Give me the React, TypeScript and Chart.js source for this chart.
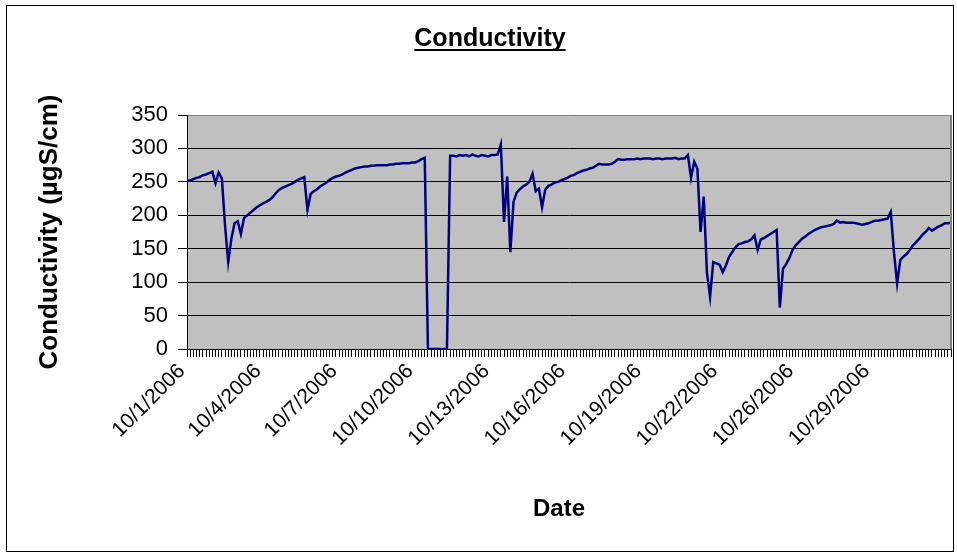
import React, { useEffect, useRef } from 'react';
import { Chart, registerables } from 'chart.js';

Chart.register(...registerables);

const FONT = '"Liberation Sans", Arial, Helvetica, sans-serif';

const tickLabels = [
  '10/1/2006', '10/4/2006', '10/7/2006', '10/10/2006', '10/13/2006',
  '10/16/2006', '10/19/2006', '10/22/2006', '10/26/2006', '10/29/2006',
];
const labelStep = 24;

const conductivity = [
  252, 252, 254, 256, 257, 260, 261, 263, 265, 248, 264, 255, 185, 130, 165, 188, 191, 172, 196, 200,
  204, 208, 212, 215, 218, 220, 223, 227, 233, 238, 241, 243, 245, 247, 250, 253, 255, 257, 208, 232,
  236, 239, 243, 246, 249, 253, 256, 258, 259, 261, 264, 266, 268, 270, 271, 272, 273, 273, 274, 274,
  275, 275, 275, 275, 276, 276, 277, 277, 278, 278, 278, 279, 279, 281, 284, 286, 0, 0, 0, 0,
  0, 0, 0, 289, 289, 288, 290, 289, 290, 288, 291, 289, 288, 290, 289, 288, 290, 290, 291, 306,
  190, 258, 145, 220, 234, 239, 243, 246, 250, 262, 236, 240, 212, 238, 244, 246, 249, 250, 252, 254,
  256, 259, 260, 263, 265, 267, 268, 270, 271, 274, 277, 276, 276, 276, 277, 280, 284, 283, 283, 284,
  284, 284, 285, 284, 285, 285, 285, 284, 285, 285, 284, 285, 285, 285, 286, 284, 285, 285, 290, 256,
  280, 270, 175, 228, 115, 78, 130, 128, 126, 115, 125, 138, 145, 152, 157, 158, 160, 161, 164, 170,
  148, 164, 166, 169, 172, 175, 178, 62, 120, 127, 136, 148, 155, 160, 165, 168, 172, 175, 178, 180,
  182, 183, 184, 185, 187, 192, 189, 190, 189, 189, 189, 188, 187, 186, 187, 188, 190, 192, 192, 193,
  194, 195, 205, 145, 98, 133, 138, 142, 148, 155, 160, 165, 171, 175, 181, 177, 180, 183, 185, 188,
  188, 189,
];

const categories = conductivity.map((_, i) =>
  i % labelStep === 0 && tickLabels[i / labelStep] ? tickLabels[i / labelStep] : ''
);

const chartTitle = 'Conductivity';
const xTitle = 'Date';
const yTitle = 'Conductivity (µgS/cm)';

const framePlugin = {
  id: 'framePlugin',
  beforeDraw(chart: any) {
    const { ctx, chartArea } = chart;
    ctx.save();
    ctx.fillStyle = '#C0C0C0';
    ctx.fillRect(chartArea.left, chartArea.top, chartArea.right - chartArea.left, chartArea.bottom - chartArea.top);
    ctx.strokeStyle = '#000';
    ctx.lineWidth = 1;
    ctx.strokeRect(6.5, 5.5, 947, 546);
    ctx.restore();
  },
  afterDraw(chart: any) {
    const { ctx, chartArea } = chart;
    ctx.save();
    ctx.strokeStyle = '#808080';
    ctx.lineWidth = 2;
    ctx.beginPath();
    ctx.moveTo(chartArea.right, chartArea.top);
    ctx.lineTo(chartArea.right, chartArea.bottom);
    ctx.stroke();
    const tb = chart.titleBlock;
    if (tb) {
      ctx.font = `bold 25px ${FONT}`;
      const w = ctx.measureText(chartTitle).width;
      const cx = (tb.left + tb.right) / 2;
      const y = tb.top + 20 + 15 + 11;
      ctx.strokeStyle = '#000';
      ctx.lineWidth = 2;
      ctx.beginPath();
      ctx.moveTo(cx - w / 2, y);
      ctx.lineTo(cx + w / 2, y);
      ctx.stroke();
    }
    ctx.restore();
  },
};

export default function App() {
  const ref = useRef<HTMLCanvasElement | null>(null);
  useEffect(() => {
    if (!ref.current) return;
    const chart = new Chart(ref.current, {
      type: 'line',
      data: {
        labels: categories,
        datasets: [
          {
            label: 'Conductivity',
            data: conductivity,
            borderColor: '#000080',
            backgroundColor: '#000080',
            borderWidth: 2.5,
            pointRadius: 0,
            tension: 0,
            fill: false,
          },
        ],
      },
      options: {
        responsive: true,
        maintainAspectRatio: false,
        animation: false,
        events: [],
        layout: { padding: { left: 29, right: 6, top: 4, bottom: 0 } },
        plugins: {
          legend: { display: false },
          tooltip: { enabled: false },
          title: {
            display: true,
            text: chartTitle,
            color: '#000',
            font: { family: FONT, size: 25, weight: 'bold' },
            padding: { top: 20, bottom: 61 },
          },
        },
        scales: {
          x: {
            type: 'category',
            offset: false,
            grid: {
              display: true,
              drawOnChartArea: false,
              drawTicks: true,
              tickLength: 8,
              color: '#000',
              lineWidth: 1,
            },
            border: { display: true, color: '#000', width: 1 },
            ticks: {
              autoSkip: false,
              minRotation: 45,
              maxRotation: 45,
              labelOffset: -5,
              color: '#000',
              font: { family: FONT, size: 21 },
              padding: 2,
            },
            title: {
              display: true,
              text: xTitle + '\u00A0\u00A0\u00A0',
              color: '#000',
              font: { family: FONT, size: 24, weight: 'bold' },
              padding: { top: 0, bottom: 32 },
            },
            afterFit: (s: any) => {
              s.height = 207;
              s.paddingLeft = 0;
              s.paddingRight = 0;
            },
          },
          y: {
            min: 0,
            max: 350,
            ticks: {
              stepSize: 50,
              color: '#000',
              font: { family: FONT, size: 22 },
              padding: 10,
            },
            grid: {
              color: (c: any) => (c.tick && c.tick.value === 350 ? '#808080' : '#000'),
              tickColor: '#000',
              lineWidth: 1,
              drawTicks: true,
              tickLength: 9,
            },
            border: { display: true, color: '#000', width: 1 },
            title: {
              display: true,
              text: yTitle,
              color: '#000',
              font: { family: FONT, size: 26, weight: 'bold' },
              padding: { top: 5, bottom: 0 },
            },
            afterFit: (s: any) => {
              s.width = 158;
            },
          },
        },
      },
      plugins: [framePlugin],
    });
    return () => chart.destroy();
  }, []);
  return (
    <div style={{ position: 'absolute', left: 0, top: 0, width: 957, height: 556 }}>
      <canvas ref={ref} />
    </div>
  );
}
